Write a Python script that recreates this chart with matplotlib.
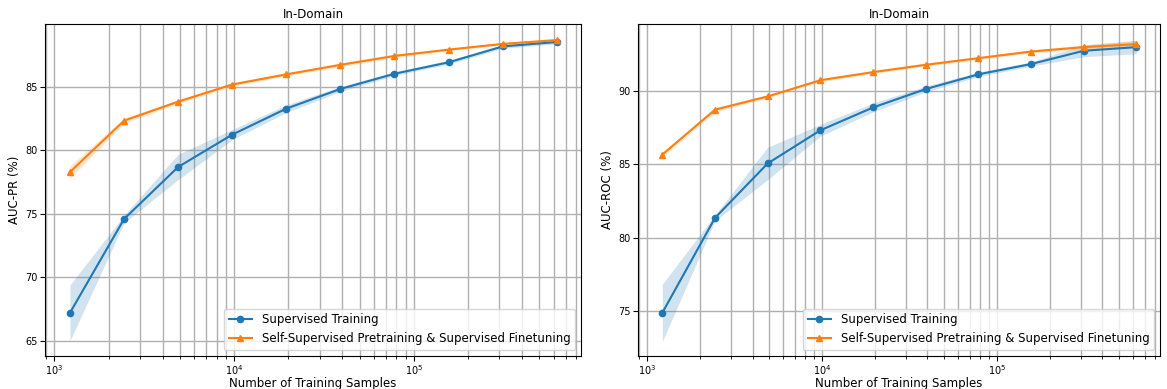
import matplotlib
matplotlib.use("Agg")
import matplotlib.pyplot as plt
from matplotlib.ticker import MultipleLocator
import numpy as np

# training set sizes (625000 / 2^k)
samples = [1220, 2441, 4883, 9766, 19531, 39063, 78125, 156250, 312500, 625000]

# AUC-PR (%)
pr_sup = [67.2, 74.6, 78.7, 81.25, 83.3, 84.85, 86.05, 86.95, 88.2, 88.55]
pr_sup_std = [2.2, 0.3, 1.0, 0.4, 0.3, 0.2, 0.15, 0.15, 0.15, 0.15]
pr_ssl = [78.3, 82.35, 83.85, 85.2, 86.0, 86.75, 87.45, 87.95, 88.4, 88.7]
pr_ssl_std = [0.5, 0.2, 0.15, 0.15, 0.1, 0.15, 0.15, 0.1, 0.1, 0.15]

# AUC-ROC (%)
roc_sup = [74.9, 81.35, 85.05, 87.3, 88.85, 90.1, 91.1, 91.8, 92.7, 92.95]
roc_sup_std = [1.95, 0.2, 1.1, 0.4, 0.3, 0.2, 0.15, 0.15, 0.4, 0.45]
roc_ssl = [85.65, 88.7, 89.6, 90.7, 91.25, 91.75, 92.2, 92.65, 92.95, 93.15]
roc_ssl_std = [0.15, 0.15, 0.1, 0.1, 0.1, 0.1, 0.1, 0.1, 0.15, 0.25]

labels = ["Supervised Training", "Self-Supervised Pretraining & Supervised Finetuning"]

W, H = 1167, 389
fig = plt.figure(figsize=(W / 100, H / 100), dpi=100)
ax1 = fig.add_axes([45 / W, 1 - 356 / H, 536 / W, 332 / H])
ax2 = fig.add_axes([638 / W, 1 - 356 / H, 522 / W, 332 / H])

panels = [
    (ax1, pr_sup, pr_sup_std, pr_ssl, pr_ssl_std, "AUC-PR (%)", (63.8, 89.97)),
    (ax2, roc_sup, roc_sup_std, roc_ssl, roc_ssl_std, "AUC-ROC (%)", (71.97, 94.52)),
]

fs = 8.5
x = np.array(samples)
for ax, sup, sup_s, ssl, ssl_s, ylab, ylim in panels:
    sup, sup_s = np.array(sup), np.array(sup_s)
    ssl, ssl_s = np.array(ssl), np.array(ssl_s)
    ax.plot(x, sup, marker="o", markersize=4.5, color="C0", label=labels[0])
    ax.fill_between(x, sup - sup_s, sup + sup_s, color="C0", alpha=0.2, linewidth=0)
    ax.plot(x, ssl, marker="^", markersize=5, color="C1", label=labels[1])
    ax.fill_between(x, ssl - ssl_s, ssl + ssl_s, color="C1", alpha=0.2, linewidth=0)
    ax.set_xscale("log")
    ax.set_xlim(886, 853000)
    ax.set_ylim(*ylim)
    ax.yaxis.set_major_locator(MultipleLocator(5))
    ax.grid(True, which="both", color="#b0b0b0", linewidth=1)
    ax.set_axisbelow(True)
    ax.set_title("In-Domain", fontsize=fs, pad=4)
    ax.set_xlabel("Number of Training Samples", fontsize=fs, labelpad=0)
    ax.set_ylabel(ylab, fontsize=fs, labelpad=3)
    ax.tick_params(labelsize=7, pad=1.5)
    ax.legend(loc="lower right", fontsize=fs)

fig.savefig("out.png", dpi=100)
